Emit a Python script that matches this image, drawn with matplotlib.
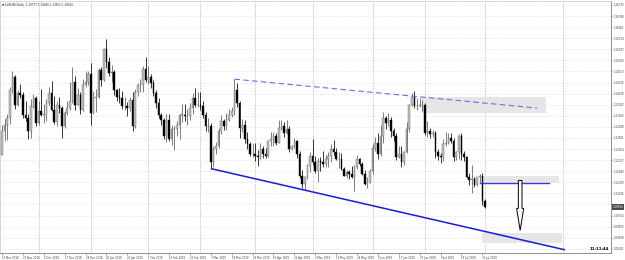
import numpy as np
import pandas as pd
import matplotlib
matplotlib.use("Agg")
import matplotlib.pyplot as plt
from matplotlib.patches import Rectangle, FancyArrow
import matplotlib.transforms as mtransforms

# ---------------- data ----------------
symbol_title = "EURUSD,Daily  1.10777 1.10850 1.10553 1.10594"
first_open = 1.1218
closes = [
    # Nov 2018
    1.1290, 1.1310, 1.1330, 1.1415, 1.1455, 1.1370, 1.1405, 1.1400, 1.1338, 1.1330, 1.1290, 1.1365, 1.1390, 1.1315,
    # Dec
    1.1350, 1.1340, 1.1340, 1.1375, 1.1405, 1.1355, 1.1318, 1.1370, 1.1360, 1.1305, 1.1345, 1.1360, 1.1380, 1.1440,
    1.1370, 1.1400, 1.1355, 1.1430, 1.1440, 1.1465,
    # Jan 2019
    1.1345, 1.1390, 1.1395, 1.1475, 1.1445, 1.1540, 1.1500, 1.1468, 1.1470, 1.1415, 1.1395, 1.1390, 1.1365, 1.1365,
    1.1360, 1.1385, 1.1305, 1.1410, 1.1430, 1.1430, 1.1480, 1.1445,
    # Feb
    1.1455, 1.1435, 1.1405, 1.1375, 1.1340, 1.1325, 1.1275, 1.1325, 1.1265, 1.1295, 1.1295, 1.1310, 1.1340, 1.1340,
    1.1335, 1.1335, 1.1360, 1.1390, 1.1370, 1.1370,
    # Mar
    1.1365, 1.1340, 1.1305, 1.1305, 1.1195, 1.1235, 1.1245, 1.1290, 1.1320, 1.1305, 1.1325, 1.1340, 1.1350, 1.1415,
    1.1375, 1.1300, 1.1310, 1.1265, 1.1250, 1.1220, 1.1220,
    # Apr
    1.1215, 1.1210, 1.1235, 1.1220, 1.1215, 1.1260, 1.1265, 1.1275, 1.1255, 1.1300, 1.1305, 1.1285, 1.1295, 1.1235,
    1.1245, 1.1260, 1.1220, 1.1155, 1.1130, 1.1150, 1.1185, 1.1215,
    # May
    1.1195, 1.1170, 1.1200, 1.1195, 1.1190, 1.1205, 1.1215, 1.1235, 1.1225, 1.1205, 1.1205, 1.1175, 1.1155, 1.1165,
    1.1160, 1.1150, 1.1180, 1.1205, 1.1190, 1.1160, 1.1130, 1.1135, 1.1170,
    # Jun
    1.1240, 1.1255, 1.1220, 1.1275, 1.1330, 1.1315, 1.1325, 1.1290, 1.1275, 1.1210, 1.1220, 1.1195, 1.1225, 1.1295,
    1.1370, 1.1395, 1.1365, 1.1365, 1.1370, 1.1370,
    # Jul
    1.1285, 1.1290, 1.1280, 1.1285, 1.1225, 1.1215, 1.1210, 1.1250, 1.1255, 1.1270, 1.1260, 1.1210, 1.1225, 1.1275,
    1.1220, 1.1210, 1.1150, 1.1140, 1.1145, 1.1125, 1.1150, 1.1155, 1.1077,
    # Aug
    1.10594,
]
highs = [
    1.1308, 1.1326, 1.1343, 1.1423, 1.1472, 1.1461, 1.1415, 1.1432, 1.1410, 1.1383, 1.1342, 1.1388, 1.1402, 1.1397,
    1.1382, 1.1419, 1.1372, 1.1389, 1.1424, 1.1443, 1.1398, 1.1383, 1.1394, 1.1365, 1.1350, 1.1380, 1.1439, 1.1486,
    1.1456, 1.1420, 1.1410, 1.1449, 1.1474, 1.1472,
    1.1498, 1.1412, 1.1419, 1.1483, 1.1486, 1.1542, 1.1570, 1.1516, 1.1491, 1.1477, 1.1418, 1.1420, 1.1411, 1.1394,
    1.1378, 1.1394, 1.1410, 1.1417, 1.1437, 1.1449, 1.1489, 1.1514,
    1.1489, 1.1463, 1.1446, 1.1415, 1.1390, 1.1345, 1.1330, 1.1341, 1.1341, 1.1310, 1.1307, 1.1320, 1.1342, 1.1371,
    1.1372, 1.1357, 1.1375, 1.1407, 1.1420, 1.1410,
    1.1409, 1.1382, 1.1348, 1.1330, 1.1316, 1.1245, 1.1258, 1.1300, 1.1339, 1.1328, 1.1344, 1.1358, 1.1363, 1.1448,
    1.1437, 1.1383, 1.1326, 1.1323, 1.1286, 1.1257, 1.1255,
    1.1255, 1.1232, 1.1255, 1.1246, 1.1240, 1.1263, 1.1286, 1.1288, 1.1285, 1.1324, 1.1323, 1.1318, 1.1323, 1.1307,
    1.1248, 1.1268, 1.1264, 1.1228, 1.1173, 1.1153, 1.1190, 1.1225,
    1.1265, 1.1215, 1.1208, 1.1210, 1.1228, 1.1217, 1.1226, 1.1251, 1.1264, 1.1239, 1.1226, 1.1224, 1.1181, 1.1171,
    1.1172, 1.1185, 1.1187, 1.1216, 1.1208, 1.1197, 1.1172, 1.1150, 1.1175,
    1.1251, 1.1272, 1.1285, 1.1309, 1.1348, 1.1335, 1.1346, 1.1333, 1.1298, 1.1285, 1.1245, 1.1245, 1.1230, 1.1319,
    1.1372, 1.1405, 1.1412, 1.1391, 1.1392, 1.1386,
    1.1375, 1.1320, 1.1300, 1.1293, 1.1291, 1.1236, 1.1222, 1.1265, 1.1286, 1.1284, 1.1285, 1.1269, 1.1230, 1.1282,
    1.1283, 1.1230, 1.1215, 1.1164, 1.1187, 1.1151, 1.1150, 1.1160, 1.1163,
    1.10850,
]
lows = [
    1.1216, 1.1260, 1.1262, 1.1312, 1.1405, 1.1358, 1.1365, 1.1390, 1.1330, 1.1322, 1.1267, 1.1270, 1.1359, 1.1305,
    1.1310, 1.1337, 1.1314, 1.1320, 1.1370, 1.1351, 1.1313, 1.1305, 1.1346, 1.1270, 1.1300, 1.1338, 1.1355, 1.1375,
    1.1355, 1.1370, 1.1343, 1.1351, 1.1424, 1.1430,
    1.1309, 1.1341, 1.1348, 1.1390, 1.1426, 1.1443, 1.1483, 1.1457, 1.1440, 1.1400, 1.1380, 1.1375, 1.1356, 1.1355,
    1.1336, 1.1351, 1.1290, 1.1300, 1.1398, 1.1410, 1.1410, 1.1440,
    1.1433, 1.1422, 1.1396, 1.1360, 1.1330, 1.1309, 1.1265, 1.1258, 1.1259, 1.1249, 1.1234, 1.1275, 1.1265, 1.1318,
    1.1320, 1.1310, 1.1325, 1.1341, 1.1362, 1.1364,
    1.1354, 1.1330, 1.1290, 1.1286, 1.1176, 1.1180, 1.1220, 1.1238, 1.1281, 1.1292, 1.1294, 1.1322, 1.1332, 1.1338,
    1.1363, 1.1270, 1.1288, 1.1254, 1.1236, 1.1213, 1.1210,
    1.1200, 1.1184, 1.1205, 1.1207, 1.1207, 1.1212, 1.1246, 1.1245, 1.1248, 1.1253, 1.1294, 1.1272, 1.1281, 1.1226,
    1.1233, 1.1238, 1.1207, 1.1146, 1.1118, 1.1111, 1.1145, 1.1167,
    1.1187, 1.1163, 1.1136, 1.1168, 1.1182, 1.1180, 1.1181, 1.1197, 1.1217, 1.1201, 1.1178, 1.1173, 1.1153, 1.1146,
    1.1144, 1.1148, 1.1107, 1.1176, 1.1185, 1.1157, 1.1125, 1.1116, 1.1132,
    1.1160, 1.1230, 1.1205, 1.1215, 1.1253, 1.1296, 1.1306, 1.1272, 1.1261, 1.1202, 1.1207, 1.1181, 1.1186, 1.1223,
    1.1287, 1.1365, 1.1359, 1.1353, 1.1362, 1.1351,
    1.1277, 1.1272, 1.1269, 1.1273, 1.1207, 1.1203, 1.1192, 1.1199, 1.1244, 1.1250, 1.1254, 1.1200, 1.1201, 1.1205,
    1.1202, 1.1200, 1.1147, 1.1127, 1.1101, 1.1119, 1.1123, 1.1135, 1.1065,
    1.10553,
]
opens = [first_open] + closes[:-1]

date_labels = ["13 Nov 2018", "23 Nov 2018", "5 Dec 2018", "17 Dec 2018", "28 Dec 2018", "10 Jan 2019",
               "22 Jan 2019", "1 Feb 2019", "13 Feb 2019", "25 Feb 2019", "7 Mar 2019", "19 Mar 2019",
               "29 Mar 2019", "10 Apr 2019", "22 Apr 2019", "2 May 2019", "14 May 2019", "24 May 2019",
               "5 Jun 2019", "17 Jun 2019", "27 Jun 2019", "9 Jul 2019", "19 Jul 2019", "31 Jul 2019"]
date_label_bars = [0, 8, 16, 24, 32, 40, 48, 56, 64, 72, 80, 88, 96, 104, 112, 120, 128, 136, 144, 152,
                   160, 168, 176, 184]
month_start_bars = [14, 34, 56, 76, 97, 119, 142, 162, 185, 215]

price_ticks = [1.16735, 1.16398, 1.16061, 1.15724, 1.15387, 1.15050, 1.14713, 1.14376, 1.14039, 1.13702,
               1.13365, 1.13028, 1.12691, 1.12354, 1.12017, 1.11680, 1.11343, 1.11006, 1.10669, 1.10332,
               1.09995, 1.09658, 1.09321]
current_price = 1.10594
timer_text = "11:11:44"

# drawn objects (bar index, price)
support_line = [(80, 1.1176), (215.7, 1.0929)]
resist_line = [(89, 1.1448), (205, 1.1360)]
upper_zone = [161, 208.4, 1.1345, 1.1394]
mid_zone = [184, 213.4, 1.1132, 1.1154]
low_zone = [184, 214.6, 1.0950, 1.0980]
level_line = [183.1, 209.6, 1.1132]
arrow_spec = [198.5, 1.1140, 1.0988]

# ---------------- plot ----------------
W, H = 625, 260
fig = plt.figure(figsize=(W / 100, H / 100), dpi=100)
fig.patch.set_facecolor("white")
ax = fig.add_axes([0, 7 / H, 611 / W, 252 / H])
ax.set_facecolor("white")

n = len(closes)
x = np.arange(n)
o = np.array(opens); c = np.array(closes); h = np.array(highs); l = np.array(lows)
bull = c >= o
bear = ~bull

# grid
for p in price_ticks:
    ax.axhline(p, color="#d6d6e4", lw=0.5, ls=(0, (1, 1.5)), zorder=0)
for b in month_start_bars:
    ax.axvline(b, color="#a8a8a8", lw=0.6, ls=(0, (1, 1.5)), zorder=0)

# zones
for z in (upper_zone, mid_zone, low_zone):
    ax.add_patch(Rectangle((z[0], z[2]), z[1] - z[0], z[3] - z[2], facecolor="#e6e6e6",
                           edgecolor="none", zorder=0.5))

# candles
ax.vlines(x[bull], l[bull], h[bull], color="#5a5a5a", lw=0.55, zorder=2)
ax.vlines(x[bear], l[bear], h[bear], color="#000000", lw=0.55, zorder=2)
bh = np.maximum(np.abs(c - o), 0.00006)
ax.bar(x[bull], bh[bull], bottom=np.minimum(o, c)[bull], width=0.62, color="#c2c2c2",
       edgecolor="#666666", linewidth=0.3, zorder=3)
ax.bar(x[bear], bh[bear], bottom=np.minimum(o, c)[bear], width=0.62, color="#000000",
       edgecolor="#000000", linewidth=0.3, zorder=3)

# lines
ax.plot([support_line[0][0], support_line[1][0]], [support_line[0][1], support_line[1][1]],
        color="#1a1ad8", lw=1.1, zorder=4, solid_capstyle="butt")
ax.plot([resist_line[0][0], resist_line[1][0]], [resist_line[0][1], resist_line[1][1]],
        color="#6b6be6", lw=0.8, ls=(0, (5, 3)), zorder=4)
ax.plot([level_line[0], level_line[1]], [level_line[2], level_line[2]], color="#3a3ad0", lw=1.0, zorder=4)

# arrow
ax.add_patch(FancyArrow(arrow_spec[0], arrow_spec[1], 0, arrow_spec[2] - arrow_spec[1], width=1.4,
                        head_width=2.7, head_length=0.0067, length_includes_head=True,
                        facecolor="white", edgecolor="black", lw=0.7, zorder=5))

ax.set_xlim(-0.77, 233.3)
ax.set_ylim(1.09194, 1.16855)

# axes styling
ax.yaxis.tick_right()
ax.set_yticks(price_ticks)
ylabels = [f"{p:.5f}" if abs(p - current_price) > 0.0015 else "" for p in price_ticks]
ax.set_yticklabels(ylabels)
ax.set_xticks(date_label_bars)
ax.set_xticklabels(date_labels)
for t in ax.get_xticklabels():
    t.set_ha("left")
ax.tick_params(axis="x", labelsize=1.9, colors="#505050", length=1.5, width=0.4, pad=0.8,
               labelcolor="#404040")
ax.tick_params(axis="y", labelsize=1.9, colors="#505050", length=1.0, width=0.4, pad=0.6,
               labelcolor="#404040")
for s in ("right", "bottom"):
    ax.spines[s].set_color("#808080"); ax.spines[s].set_linewidth(0.6)
for s in ("left", "top"):
    ax.spines[s].set_color("#c8c8c8"); ax.spines[s].set_linewidth(0.5)

# header
ax.text(0.004, 0.992, "\u25BC " + symbol_title, transform=ax.transAxes, fontsize=2.0,
        color="#303030", va="top", ha="left")

# current price label
trans = mtransforms.blended_transform_factory(ax.transAxes, ax.transData)
ax.text(1.002, current_price, f"{current_price:.5f}", transform=trans, fontsize=1.9, color="white",
        va="center", ha="left", bbox=dict(facecolor="#4a4a4a", edgecolor="none", pad=0.5), zorder=6)

# timer text
ax.text(0.997, 0.008, timer_text, transform=ax.transAxes, fontsize=2.8, fontweight="bold",
        color="black", va="bottom", ha="right")

fig.savefig("out.png", dpi=100)
